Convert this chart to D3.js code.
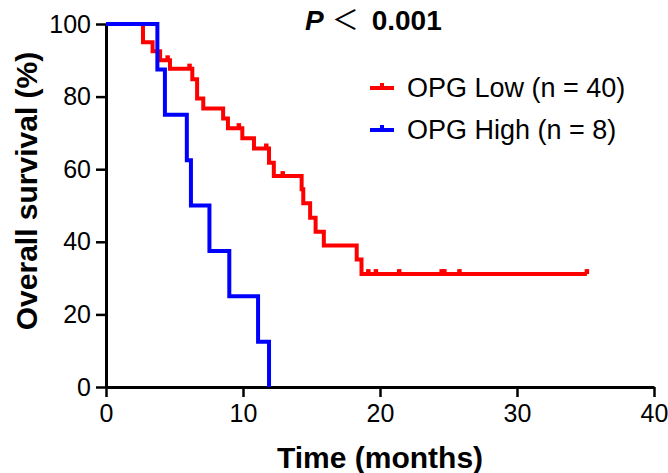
<!DOCTYPE html>
<html>
<head>
<meta charset="utf-8">
<script src="https://cdn.jsdelivr.net/npm/d3@7"></script>
<style>
  body { margin: 0; background: #fff; }
  svg { display: block; font-family: "Liberation Sans", Arial, sans-serif; }
</style>
</head>
<body>
<div id="km"></div>
<script>
// Kaplan-Meier Daten
let redTimes = [0, 2.7, 3.4, 3.95, 4.67, 6.3, 6.65, 7.1, 8.55, 8.9, 9.95, 10.8, 11.9, 12.25, 14.28, 14.4, 14.9, 15.3, 15.9, 18.3, 18.65];
let redSurv = [100, 95, 92.5, 90, 87.7, 84.8, 79.5, 76.7, 74.0, 71.3, 68.5, 65.7, 61.8, 58.1, 54.5, 50.6, 46.6, 42.8, 39.0, 35.1, 31.1];
let redCensor = [4.5, 6.1, 9.7, 11.7, 12.9, 19.15, 19.7, 21.4, 24.5, 24.7, 25.8, 35.1];
let redEnd = 35.1;

let blueTimes = [0, 3.75, 4.3, 5.9, 6.2, 7.55, 9.0, 11.1, 11.9];
let blueSurv = [100, 87.5, 75, 62.5, 50, 37.5, 25, 12.5, 0];
let blueCensor = [];
let blueEnd = 11.9;

let xTicks = [0, 10, 20, 30, 40];
let yTicks = [0, 20, 40, 60, 80, 100];
let legendLabels = ["OPG Low (n = 40)", "OPG High (n = 8)"];

let width = 668,
  height = 473,
  margin = { top: 24, right: 14, bottom: 86, left: 106 };

let x = d3.scaleLinear().domain([0, 40]).range([margin.left, width - margin.right]);
let y = d3.scaleLinear().domain([0, 100]).range([height - margin.bottom, margin.top]);

let svg = d3.select("#km")
  .append("svg")
  .attr("width", width)
  .attr("height", height);

// Achsen
let xAxis = svg.append("g")
  .attr("transform", "translate(0," + y(0) + ")")
  .call(d3.axisBottom(x).tickValues(xTicks).tickSize(10).tickSizeOuter(0).tickPadding(7));

let yAxis = svg.append("g")
  .attr("transform", "translate(" + x(0) + ",0)")
  .call(d3.axisLeft(y).tickValues(yTicks).tickSize(10).tickSizeOuter(0).tickPadding(5));

[xAxis, yAxis].forEach(function(a) {
  a.select(".domain").attr("stroke", "#000").attr("stroke-width", 3);
  a.selectAll(".tick line").attr("stroke", "#000").attr("stroke-width", 2.5);
  a.selectAll(".tick text")
    .attr("fill", "#000")
    .style("font-size", "25px")
    .style("font-family", "'Liberation Sans', Arial, sans-serif");
});

function stufen(times, surv, end) {
  let pts = times.map(function(t, i) { return [t, surv[i]]; });
  pts.push([end, surv[surv.length - 1]]);
  return pts;
}

function survAt(times, surv, t) {
  let s = surv[0];
  for (let i = 0; i < times.length; i++) {
    if (times[i] <= t) s = surv[i];
  }
  return s;
}

let line = d3.line()
  .x(function(d) { return x(d[0]); })
  .y(function(d) { return y(d[1]); })
  .curve(d3.curveStepAfter);

let gruppen = [
  { times: redTimes, surv: redSurv, censor: redCensor, end: redEnd, color: "#ff0000" },
  { times: blueTimes, surv: blueSurv, censor: blueCensor, end: blueEnd, color: "#0000ff" }
];

gruppen.forEach(function(g) {
  svg.append("path")
    .attr("d", line(stufen(g.times, g.surv, g.end)))
    .attr("fill", "none")
    .attr("stroke", g.color)
    .attr("stroke-width", 4);

  svg.selectAll(null)
    .data(g.censor)
    .enter()
    .append("line")
    .attr("x1", function(t) { return x(t); })
    .attr("x2", function(t) { return x(t); })
    .attr("y1", function(t) { return y(survAt(g.times, g.surv, t)) - 5; })
    .attr("y2", function(t) { return y(survAt(g.times, g.surv, t)); })
    .attr("stroke", g.color)
    .attr("stroke-width", 4.5);
});

// Legende
let legend = svg.selectAll(".legend")
  .data(gruppen)
  .enter()
  .append("g")
  .attr("class", "legend")
  .attr("transform", function(d, i) { return "translate(370," + (88 + i * 42) + ")"; });

legend.append("line")
  .attr("x1", 0).attr("x2", 24)
  .attr("stroke", function(d) { return d.color; })
  .attr("stroke-width", 4);

legend.append("line")
  .attr("x1", 12).attr("x2", 12)
  .attr("y1", -5).attr("y2", 0)
  .attr("stroke", function(d) { return d.color; })
  .attr("stroke-width", 4);

legend.append("text")
  .attr("x", 37)
  .attr("y", 9)
  .style("font-size", "27px")
  .attr("fill", "#000")
  .text(function(d, i) { return legendLabels[i]; });

// P-Wert
let titel = svg.append("text")
  .attr("x", 305)
  .attr("y", 30)
  .style("font-size", "28px")
  .attr("fill", "#000");
titel.append("tspan").style("font-weight", "bold").style("font-style", "italic").text("P");
titel.append("tspan")
  .attr("dx", 8)
  .style("font-family", "'Noto Sans CJK SC', sans-serif")
  .style("font-size", "27px")
  .text("＜");
titel.append("tspan").attr("dx", 13).style("font-weight", "bold").text("0.001");

// Achsentitel
svg.append("text")
  .attr("x", x(20))
  .attr("y", 468)
  .attr("text-anchor", "middle")
  .style("font-size", "30px")
  .style("font-weight", "bold")
  .text("Time (months)");

svg.append("text")
  .attr("transform", "translate(37,191) rotate(-90)")
  .attr("text-anchor", "middle")
  .style("font-size", "30px")
  .style("font-weight", "bold")
  .text("Overall survival (%)");
</script>
</body>
</html>
